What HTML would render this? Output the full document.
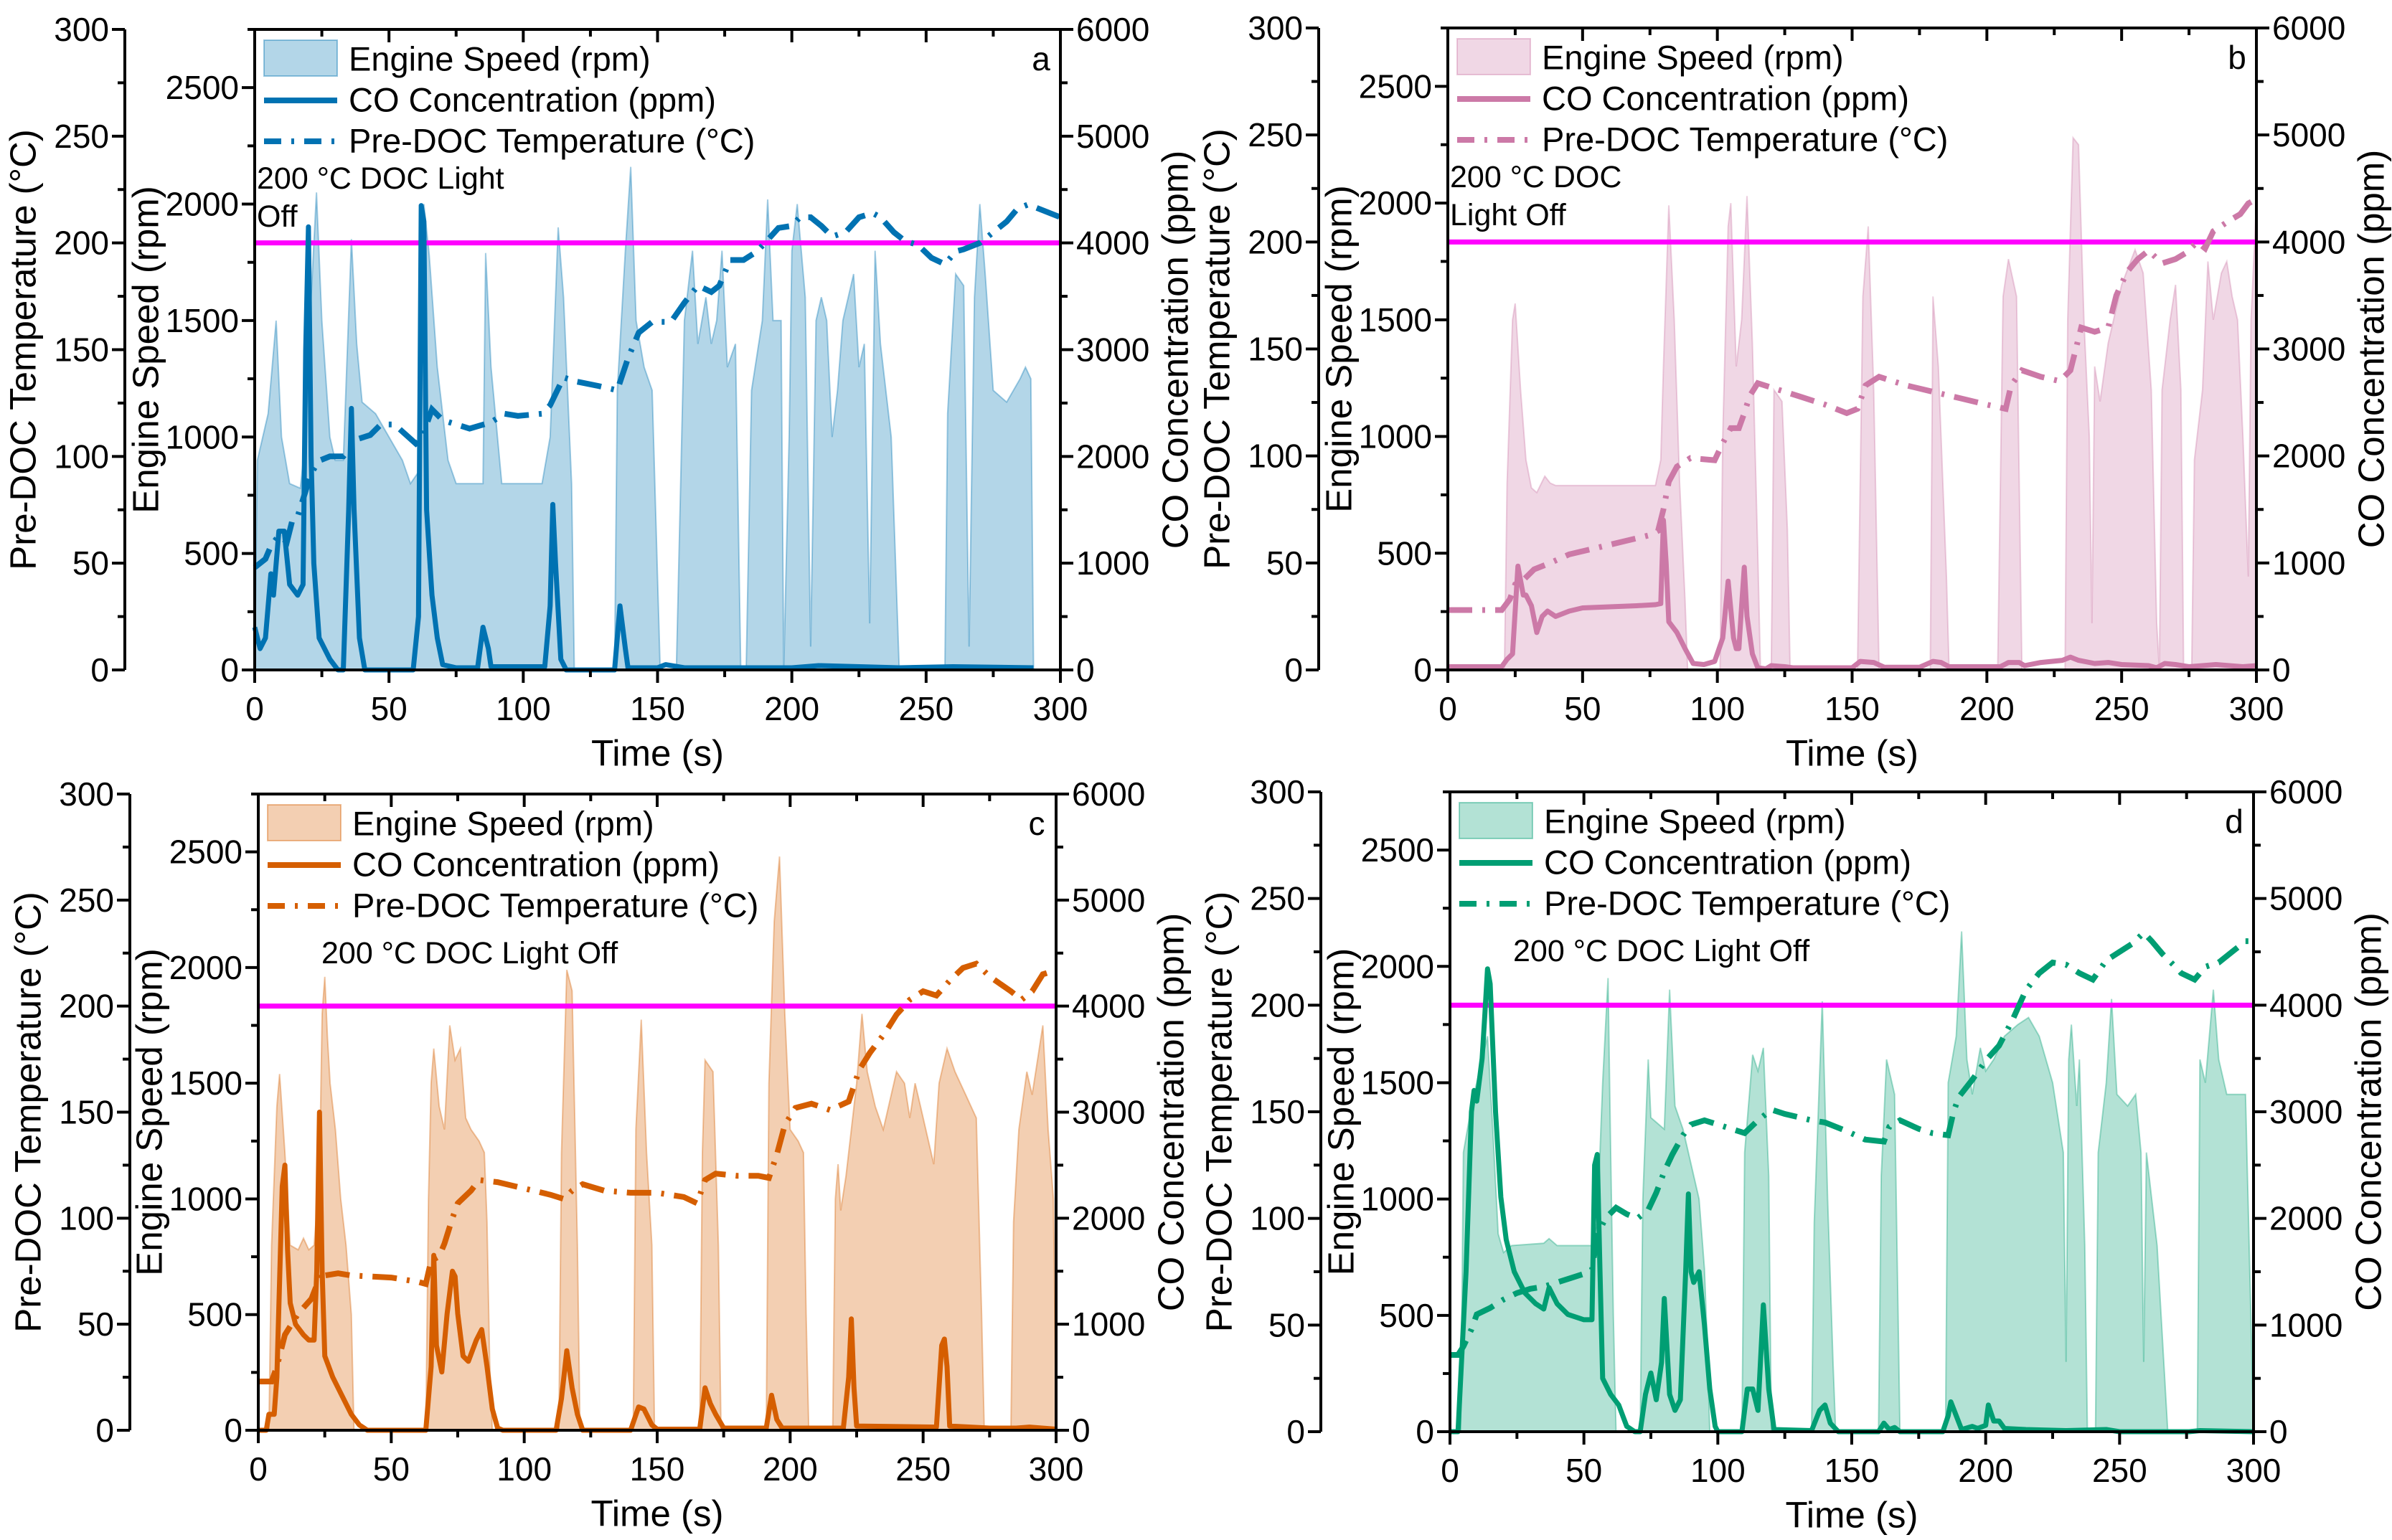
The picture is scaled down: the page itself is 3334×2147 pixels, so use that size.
<!DOCTYPE html>
<html><head><meta charset="utf-8"><style>
html,body{margin:0;padding:0;background:#fff}
svg{display:block;font-family:"Liberation Sans",Arial,sans-serif}
</style></head><body>
<svg id="fig" width="3334" height="2147" viewBox="0 0 3334 2147" xmlns="http://www.w3.org/2000/svg"></svg>
<script>
// ---------- DATA ----------
const timeTicks = [0,50,100,150,200,250,300];
const tempTicks = [0,50,100,150,200,250,300];
const rpmTicks = [0,500,1000,1500,2000,2500];
const coTicks = [0,1000,2000,3000,4000,5000,6000];
const lightOffTemp = 200;

const speedA = [[0,0],[1,900],[5,1100],[8,1500],[10,1000],[13,800],[17,780],[19,1000],[21,1600],[23,2050],[25,1500],[28,1000],[30,900],[33,900],[36,1850],[38,1400],[40,1150],[45,1100],[50,1000],[55,900],[58,800],[61,850],[63,2000],[65,1780],[68,1300],[72,900],[75,800],[85,800],[86,1790],[88,1300],[92,800],[107,800],[110,1000],[113,1900],[115,1600],[118,800],[119,0],[134,0],[135,1200],[138,1800],[140,2160],[142,1500],[145,1300],[148,1200],[151,0],[157,0],[160,1500],[163,1800],[165,1400],[168,1600],[170,1400],[172,1500],[174,1800],[176,1300],[179,1400],[181,0],[183,0],[185,1200],[189,1500],[191,2020],[193,1500],[196,1500],[197,0],[199,1000],[200,1800],[202,2000],[205,1600],[207,100],[209,1500],[211,1600],[213,1500],[215,1000],[217,1200],[219,1500],[221,1600],[223,1700],[225,1300],[227,1400],[229,200],[231,1800],[233,1400],[237,1000],[240,0],[257,0],[258,1100],[261,1700],[264,1650],[266,100],[268,1600],[270,2000],[272,1700],[275,1200],[280,1150],[285,1250],[287,1300],[289,1250],[290,0]];
const coA = [[0,400],[2,200],[4,300],[6,900],[7,700],[9,1300],[11,1300],[13,800],[16,700],[18,800],[19,3000],[20,4150],[21,2000],[22,1000],[24,300],[28,100],[31,0],[33,0],[35,1500],[36,2450],[37,1500],[39,300],[41,0],[59,0],[61,500],[62,4350],[63,4200],[64,1500],[66,700],[68,300],[70,50],[75,20],[83,20],[85,400],[87,200],[88,30],[108,30],[110,600],[111,1550],[112,1000],[114,100],[116,0],[134,0],[136,600],[138,200],[139,20],[150,20],[153,50],[160,20],[200,20],[210,40],[240,20],[260,30],[290,20]];
const tempA = [[0,48],[4,52],[6,58],[9,63],[12,60],[14,70],[16,72],[18,80],[21,92],[24,98],[28,100],[33,100],[38,108],[43,110],[47,115],[52,115],[60,106],[62,108],[66,122],[70,117],[80,113],[88,116],[93,120],[98,119],[107,120],[110,124],[115,137],[120,135],[128,133],[135,131],[139,146],[143,158],[148,163],[155,163],[160,172],[165,180],[170,177],[173,180],[177,192],[182,192],[187,196],[190,200],[195,207],[200,208],[203,212],[207,212],[211,208],[215,203],[220,205],[225,212],[230,214],[233,212],[238,205],[242,201],[247,199],[252,193],[257,190],[261,196],[264,197],[270,200],[275,205],[280,210],[284,216],[288,218],[300,212]];

const speedB = [[0,0],[21,0],[22,800],[24,1500],[25,1570],[27,1200],[29,900],[31,780],[33,760],[36,830],[38,800],[40,790],[77,790],[79,900],[80,1300],[82,1990],[84,1500],[86,800],[88,300],[89,0],[101,0],[102,1000],[104,1900],[105,2000],[107,1300],[109,1500],[111,2030],[113,1400],[115,500],[116,0],[120,0],[121,1200],[124,1150],[126,600],[127,0],[152,0],[154,1600],[156,1900],[158,1200],[160,0],[179,0],[180,1600],[182,1300],[185,400],[186,0],[204,0],[206,1600],[208,1760],[211,1600],[213,0],[229,0],[230,1500],[232,2280],[234,2250],[236,1500],[238,1000],[239,200],[240,1300],[242,1150],[245,1400],[250,1650],[255,1800],[258,1700],[261,1200],[263,200],[264,0],[265,1200],[268,1500],[270,1650],[272,1200],[273,0],[276,0],[277,900],[280,1200],[282,1750],[284,1500],[287,1700],[289,1750],[291,1600],[293,1500],[295,1000],[297,400],[298,1500],[300,2000]];
const coB = [[0,30],[20,30],[22,100],[24,150],[26,970],[28,700],[29,700],[31,600],[33,350],[35,500],[37,550],[40,500],[45,550],[50,580],[60,590],[70,600],[77,610],[79,620],[80,1400],[81,1000],[82,450],[85,350],[88,200],[91,60],[95,50],[99,80],[102,300],[104,830],[106,300],[107,200],[108,200],[109,600],[110,960],[111,500],[113,150],[115,20],[118,10],[120,40],[125,30],[128,20],[150,20],[153,80],[158,70],[162,25],[175,25],[180,80],[183,70],[186,30],[205,30],[208,70],[212,70],[214,40],[220,70],[228,90],[231,120],[234,90],[240,60],[245,70],[250,50],[260,40],[263,20],[266,60],[270,50],[275,30],[280,40],[285,50],[290,40],[295,30],[300,40]];
const tempB = [[0,28],[20,28],[23,33],[25,40],[28,42],[32,47],[38,50],[45,54],[55,57],[65,60],[75,63],[78,65],[80,75],[82,88],[85,95],[90,99],[99,98],[102,106],[105,113],[108,113],[110,120],[112,128],[115,134],[120,132],[130,128],[140,124],[148,120],[152,122],[155,133],[160,137],[170,133],[180,130],[190,127],[200,124],[207,122],[209,133],[213,140],[220,137],[227,135],[231,140],[233,150],[235,160],[240,158],[245,160],[248,175],[252,186],[256,192],[260,196],[265,190],[270,192],[274,195],[278,200],[281,197],[284,205],[290,210],[294,213],[297,218],[300,220]];

const speedC = [[0,0],[4,0],[5,800],[7,1400],[8,1540],[10,1200],[12,800],[15,780],[17,830],[19,780],[21,800],[23,1100],[24,1800],[25,1960],[26,1700],[27,1500],[29,1300],[31,1000],[33,800],[35,500],[36,0],[63,0],[64,1000],[65,1500],[66,1650],[68,1400],[70,1300],[72,1750],[74,1600],[76,1650],[78,1350],[80,1300],[83,1250],[85,1200],[86,900],[87,300],[88,0],[113,0],[114,1200],[116,1990],[118,1900],[120,800],[121,0],[141,0],[142,1300],[144,1775],[146,1200],[148,800],[149,0],[166,0],[167,1200],[168,1600],[171,1550],[173,800],[174,0],[191,0],[192,1500],[194,2200],[196,2480],[198,1800],[200,1300],[203,1250],[205,1200],[206,500],[207,0],[216,0],[217,1000],[218,1150],[219,950],[221,1100],[223,1300],[225,1500],[227,1800],[229,1550],[232,1400],[235,1300],[238,1450],[240,1550],[243,1500],[245,1350],[247,1500],[249,1400],[252,1250],[254,1150],[256,1500],[259,1650],[262,1550],[266,1450],[270,1350],[272,500],[273,0],[283,0],[284,900],[286,1300],[289,1550],[291,1450],[293,1600],[295,1750],[297,1300],[299,1000],[300,0]];
const coC = [[0,0],[3,0],[4,150],[6,150],[7,500],[9,2300],[10,2500],[11,1700],[12,1200],[14,1000],[17,900],[19,850],[21,850],[22,1500],[23,3000],[24,1500],[25,700],[28,500],[32,300],[35,150],[38,50],[41,0],[63,0],[65,600],[66,1650],[67,800],[69,550],[71,1100],[73,1500],[74,1450],[75,1100],[77,700],[79,650],[82,850],[84,950],[86,600],[88,200],[90,20],[92,0],[112,0],[114,300],[116,750],[118,400],[120,150],[122,0],[140,0],[143,220],[145,200],[148,50],[150,10],[166,10],[168,400],[170,250],[172,150],[175,20],[191,20],[193,330],[195,100],[197,20],[220,20],[222,500],[223,1050],[224,400],[225,40],[255,30],[257,800],[258,860],[259,600],[260,40],[275,20],[285,20],[290,30],[300,10]];
const tempC = [[0,23],[5,23],[7,30],[10,45],[15,55],[20,62],[24,75],[25,73],[30,74],[35,73],[50,72],[60,70],[63,69],[65,80],[68,82],[70,88],[73,100],[75,107],[80,113],[83,118],[90,117],[100,114],[110,111],[115,109],[118,113],[122,116],[130,113],[140,112],[150,112],[160,110],[165,107],[168,118],[172,121],[180,120],[188,120],[192,119],[195,130],[198,144],[202,152],[208,154],[215,151],[222,155],[226,170],[230,178],[236,188],[240,196],[245,203],[250,207],[255,205],[260,212],[265,218],[270,220],[275,214],[283,207],[287,203],[291,207],[295,215],[300,217]];

const speedD = [[0,0],[4,0],[5,1200],[8,1400],[10,1500],[12,1600],[14,1700],[16,1300],[18,850],[20,770],[23,800],[35,810],[37,830],[40,800],[53,800],[55,900],[57,1500],[59,1950],[60,1200],[61,500],[62,0],[71,0],[72,1000],[74,1600],[75,1350],[80,1300],[82,1900],[84,1400],[87,1300],[90,1150],[93,1000],[95,700],[96,400],[97,0],[109,0],[110,1200],[113,1620],[115,1550],[117,1650],[119,1100],[120,0],[135,0],[136,900],[139,1850],[141,1000],[143,300],[144,0],[160,0],[161,1100],[163,1600],[166,1450],[168,0],[185,0],[186,1500],[189,1700],[191,2150],[193,1600],[195,1450],[198,1650],[200,1550],[203,1600],[207,1700],[212,1750],[216,1780],[220,1700],[225,1500],[229,1200],[230,300],[231,1600],[232,1750],[234,1400],[235,1600],[237,800],[238,0],[241,0],[242,1200],[245,1500],[247,1860],[249,1450],[253,1400],[256,1450],[258,1200],[259,300],[260,1200],[262,1000],[264,800],[268,0],[279,0],[280,1600],[282,1500],[285,1900],[287,1600],[290,1450],[297,1450],[299,500],[300,0]];
const coD = [[0,0],[3,0],[4,500],[6,1500],[8,3000],[9,3200],[10,3100],[12,3500],[13,3900],[14,4340],[15,4200],[17,3000],[19,2200],[21,1800],[24,1500],[28,1300],[32,1200],[35,1150],[37,1350],[40,1200],[44,1100],[50,1050],[53,1050],[54,2500],[55,2600],[56,1500],[57,500],[60,350],[63,250],[66,50],[69,0],[71,0],[73,350],[75,550],[77,300],[79,650],[80,1250],[82,350],[84,200],[86,300],[88,1500],[89,2230],[90,1500],[91,1400],[93,1500],[95,1000],[97,400],[99,50],[100,0],[109,0],[111,400],[113,400],[115,200],[117,1190],[119,400],[121,20],[135,10],[138,200],[140,250],[142,80],[145,0],[160,0],[162,80],[164,20],[166,40],[168,0],[184,0],[186,150],[187,280],[189,150],[191,20],[195,50],[197,30],[200,60],[201,250],[203,100],[205,100],[207,30],[215,20],[230,10],[245,20],[250,0],[276,0],[280,10],[300,0]];
const tempD = [[0,36],[3,36],[5,40],[8,48],[10,55],[15,58],[20,62],[25,65],[30,67],[35,68],[40,70],[45,72],[50,74],[53,76],[55,92],[58,100],[62,105],[66,102],[70,100],[74,104],[77,112],[80,122],[83,130],[87,139],[90,144],[95,146],[100,144],[105,142],[110,140],[115,146],[120,151],[125,149],[135,146],[140,145],[148,141],[155,137],[162,136],[164,143],[168,146],[175,142],[180,140],[186,139],[188,150],[190,157],[195,165],[200,174],[205,181],[210,193],[215,207],[220,215],[225,220],[230,219],[235,215],[240,212],[245,221],[250,225],[255,229],[259,234],[262,230],[266,224],[270,219],[273,215],[278,212],[282,218],[287,220],[292,225],[297,230],[300,230]];

// ---------- DRAWING ----------
const NS = "http://www.w3.org/2000/svg";
const svg = document.getElementById('fig');
function mk(tag, attrs, parent){
  const e = document.createElementNS(NS, tag);
  for (const k in attrs) e.setAttribute(k, attrs[k]);
  (parent||svg).appendChild(e);
  return e;
}
function txt(s, x, y, size, anchor, parent, rot){
  const t = mk('text', {x:x, y:y, 'font-size':size, 'text-anchor':anchor||'start', fill:'#000', 'dominant-baseline':'central'}, parent);
  if (rot) t.setAttribute('transform', 'rotate(-90 '+x+' '+y+')');
  t.textContent = s;
  return t;
}

const TICK = 46, TITLE = 51, LEG = 47;

const panels = [
  {id:'a', L:355, R:1478, T:41, B:934, O:174, line:'#0072b2', fill:'#b3d6e8', speed:speedA, co:coA, temp:tempA, twoLine:true},
  {id:'b', L:2018, R:3145, T:39, B:934, O:1838, line:'#cc79a7', fill:'#f0d7e5', speed:speedB, co:coB, temp:tempB, twoLine:true, lbl1:'200 °C DOC', lbl2:'Light Off'},
  {id:'c', L:360, R:1472, T:1107, B:1994, O:181, line:'#d55e00', fill:'#f3cfb2', speed:speedC, co:coC, temp:tempC, twoLine:false},
  {id:'d', L:2021, R:3141, T:1104, B:1996, O:1841, line:'#009e73', fill:'#b3e2d5', speed:speedD, co:coD, temp:tempD, twoLine:false}
];

panels.forEach(p => {
  const g = mk('g', {});
  
  
  const H = p.B - p.T, W = p.R - p.L;
  const xS = t => p.L + t / 300 * W;
  const yT = v => p.B - v / 300 * H;
  const yR = v => p.B - v / 2750 * H;
  const yC = v => p.B - v / 6000 * H;

  let d = 'M' + xS(p.speed[0][0]) + ' ' + p.B;
  p.speed.forEach(s => { d += ' L' + xS(s[0]).toFixed(1) + ' ' + yR(s[1]).toFixed(1); });
  d += ' L' + xS(p.speed[p.speed.length-1][0]) + ' ' + p.B + ' Z';
  const area = mk('path', {d:d, fill:p.fill, stroke:p.line, 'stroke-opacity':0.35, 'stroke-width':2}, g);
  
  

  const lo = mk('line', {x1:p.L, x2:p.R, y1:yT(lightOffTemp), y2:yT(lightOffTemp), stroke:'#ff00ff', 'stroke-width':7}, g);
  
  

  const tp = mk('polyline', {points:p.temp.map(s => xS(s[0]).toFixed(1)+','+yT(s[1]).toFixed(1)).join(' '), fill:'none', stroke:p.line, 'stroke-width':8, 'stroke-dasharray':'34 14 4 14'}, g);
  
  

  const cp = mk('polyline', {points:p.co.map(s => xS(s[0]).toFixed(1)+','+yC(s[1]).toFixed(1)).join(' '), fill:'none', stroke:p.line, 'stroke-width':7, 'stroke-linejoin':'round'}, g);
  
  

  const ax = mk('g', {stroke:'#000', 'stroke-width':4, fill:'none'}, g);
  
  
  mk('line', {x1:p.L, x2:p.R, y1:p.T, y2:p.T}, ax);
  mk('line', {x1:p.L, x2:p.R, y1:p.B, y2:p.B}, ax);
  mk('line', {x1:p.L, x2:p.L, y1:p.T, y2:p.B}, ax);
  mk('line', {x1:p.R, x2:p.R, y1:p.T, y2:p.B}, ax);
  mk('line', {x1:p.O, x2:p.O, y1:p.T, y2:p.B}, ax);

  for (let t = 0; t <= 300; t += 25) {
    const maj = t % 50 === 0, len = maj ? 18 : 10;
    mk('line', {x1:xS(t), x2:xS(t), y1:p.B, y2:p.B + len}, ax);
    mk('line', {x1:xS(t), x2:xS(t), y1:p.T, y2:p.T + len}, ax);
  }
  timeTicks.forEach(t => {
    const e = txt(String(t), xS(t), p.B + 54, TICK, 'middle', g);
    
    
  });
  const xt = txt('Time (s)', (p.L + p.R) / 2, p.B + 116, TITLE, 'middle', g);
  
  

  for (let v = 0; v <= 300; v += 25) {
    const len = v % 50 === 0 ? 18 : 10;
    mk('line', {x1:p.O - len, x2:p.O, y1:yT(v), y2:yT(v)}, ax);
  }
  tempTicks.forEach(v => {
    const e = txt(String(v), p.O - 22, yT(v), TICK, 'end', g);
    
    
  });
  const tt = txt('Pre-DOC Temperature (°C)', p.O - 142, (p.T + p.B) / 2, TITLE, 'middle', g, true);
  
  

  for (let v = 0; v <= 2750; v += 250) {
    const len = v % 500 === 0 ? 18 : 10;
    mk('line', {x1:p.L - len, x2:p.L, y1:yR(v), y2:yR(v)}, ax);
  }
  rpmTicks.forEach(v => {
    const e = txt(String(v), p.L - 22, yR(v), TICK, 'end', g);
    
    
  });
  const rt = txt('Engine Speed (rpm)', p.L - 152, (p.T + p.B) / 2, TITLE, 'middle', g, true);
  
  

  for (let v = 0; v <= 6000; v += 500) {
    const len = v % 1000 === 0 ? 18 : 10;
    mk('line', {x1:p.R, x2:p.R + len, y1:yC(v), y2:yC(v)}, ax);
  }
  coTicks.forEach(v => {
    const e = txt(String(v), p.R + 22, yC(v), TICK, 'start', g);
    
    
  });
  const ct = txt('CO Concentration (ppm)', p.R + 160, (p.T + p.B) / 2, TITLE, 'middle', g, true);
  
  

  const lg = mk('g', {}, g);
  
  
  const sw = mk('rect', {x:p.L + 13, y:p.T + 15, width:102, height:50, fill:p.fill, stroke:p.line, 'stroke-opacity':0.4, 'stroke-width':2}, lg);
  
  
  mk('line', {x1:p.L + 13, x2:p.L + 115, y1:p.T + 99, y2:p.T + 99, stroke:p.line, 'stroke-width':8}, lg);
  mk('line', {x1:p.L + 13, x2:p.L + 115, y1:p.T + 156, y2:p.T + 156, stroke:p.line, 'stroke-width':8, 'stroke-dasharray':'24 14 4 14'}, lg);
  ['Engine Speed (rpm)', 'CO Concentration (ppm)', 'Pre-DOC Temperature (°C)'].forEach((s, i) => {
    const e = txt(s, p.L + 131, p.T + 41 + i * 57, LEG, 'start', lg);
    
    
  });
  const pl = txt(p.id, p.R - 27, p.T + 41, 46, 'middle', g);
  
  

  if (p.twoLine) {
    const l1 = txt(p.lbl1 || '200 °C DOC Light', p.L + 3, p.T + 208, 43, 'start', g);
    
    
    const l2 = txt(p.lbl2 || 'Off', p.L + 3, p.T + 261, 43, 'start', g);
    
    
  } else {
    const l1 = txt('200 °C DOC Light Off', p.L + 88, p.T + 222, 43, 'start', g);
    
    
  }
});
</script>
</body></html>
